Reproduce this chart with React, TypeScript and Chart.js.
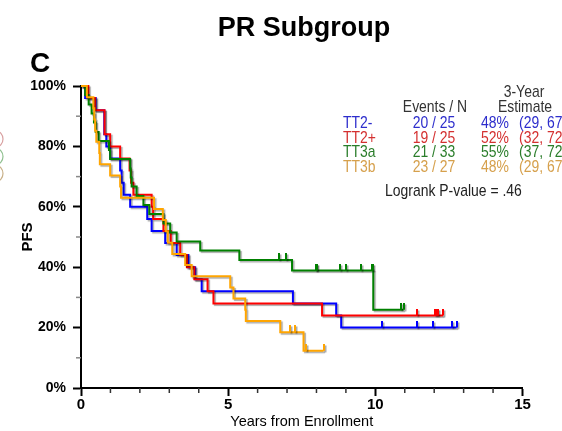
import React, { useEffect, useRef } from "react";
import { Chart, registerables } from "chart.js";

Chart.register(...registerables);

// ---- data ----
const groups = ["TT2-", "TT2+", "TT3a", "TT3b"];
const lineColors = ["#0000ff", "#ff0000", "#008000", "#ffa500"];
const textColors = ["#2d2dcc", "#d43030", "#2a7d2a", "#d6a04c"];
const eventsN = ["20 / 25", "19 / 25", "21 / 33", "23 / 27"];
const estimates = ["48%", "52%", "55%", "48%"];
const estimateCI = ["(29, 67)", "(32, 72)", "(37, 72)", "(29, 67)"];
const logrankLabel = "Logrank P-value = .46";

// Kaplan-Meier step times (years) and survival after each step (%)
const tt2mTimes = [0.14, 0.5, 0.79, 0.86, 0.99, 1.33, 1.38, 1.45, 1.67, 2.25, 2.4, 2.86, 3.25, 3.65, 3.88, 4.1, 7.2, 8.67, 8.84];
const tt2mSurv = [96, 92, 84, 80, 76, 72, 68, 64, 60, 56, 52, 48, 44, 40, 36, 32, 28, 24, 20];
const tt2mCensor = [10.23, 11.43, 11.96, 12.6, 12.76];

const tt2pTimes = [0.25, 0.48, 0.8, 0.99, 1.33, 1.65, 1.7, 1.78, 2.4, 2.45, 2.8, 3.05, 3.37, 3.6, 3.85, 4.3, 4.5, 8.19];
const tt2pSurv = [96, 92, 84, 80, 76, 72, 68, 64, 60, 56, 52, 48, 44, 40, 36, 32, 28, 24];
const tt2pCensor = [11.42, 12.04, 12.07, 12.1, 12.12, 12.3];

const tt3aTimes = [0.14, 0.26, 0.36, 0.44, 0.5, 0.6, 0.95, 0.99, 1.67, 1.69, 1.72, 1.89, 2.12, 2.32, 2.8, 3.03, 3.25, 4.05, 5.38, 7.17, 9.93];
const tt3aSurv = [97.0, 93.9, 90.9, 87.9, 84.8, 81.8, 78.8, 75.8, 72.7, 69.7, 66.7, 63.6, 60.6, 57.6, 54.5, 51.5, 48.5, 45.5, 42.4, 38.9, 25.9];
const tt3aCensor = [6.73, 6.95, 7.97, 7.99, 8.01, 8.79, 9.01, 9.52, 9.89, 9.92, 10.87, 10.96];

const tt3bTimes = [0.2, 0.42, 0.45, 0.48, 0.52, 0.62, 0.64, 0.99, 1.33, 1.36, 2.48, 2.78, 2.88, 2.95, 3.1, 3.54, 3.76, 5.07, 5.18, 5.58, 5.6, 6.77, 7.56];
const tt3bSurv = [96.3, 92.6, 88.9, 85.2, 81.5, 77.8, 74.1, 70.4, 66.7, 63.0, 59.3, 55.6, 51.9, 48.1, 44.4, 40.7, 37.0, 33.3, 29.6, 25.9, 22.2, 18.5, 12.3];
const tt3bCensor = [7.11, 7.28, 7.65, 8.24];

const curveTimes = [tt2mTimes, tt2pTimes, tt3aTimes, tt3bTimes];
const curveSurv = [tt2mSurv, tt2pSurv, tt3aSurv, tt3bSurv];
const curveCensor = [tt2mCensor, tt2pCensor, tt3aCensor, tt3bCensor];

const xMajorTicks = [0, 5, 10, 15];
const xMinorTicks = [1, 2, 3, 4, 6, 7, 8, 9, 11, 12, 13, 14];
const yMajorTicks = [0, 20, 40, 60, 80, 100];
const yMinorTicks = [10, 30, 50, 70, 90];

const ARIAL = "'Liberation Sans', Arial, sans-serif";

function survivalAt(times: number[], surv: number[], t: number): number {
  let s = 100;
  for (let i = 0; i < times.length; i++) if (times[i] <= t) s = surv[i];
  return s;
}

function curvePoints(times: number[], surv: number[], censor: number[]) {
  const pts = [{ x: 0, y: 100 }];
  times.forEach((t, i) => pts.push({ x: t, y: surv[i] }));
  const end = Math.max(...censor);
  pts.push({ x: end, y: survivalAt(times, surv, end) });
  return pts;
}

function censorMark(color: string): HTMLCanvasElement {
  const c = document.createElement("canvas");
  c.width = 2;
  c.height = 14;
  const g = c.getContext("2d")!;
  g.fillStyle = color;
  g.fillRect(0, 0, 2, 7);
  return c;
}

// condensed text: the table uses a narrow face
function narrowText(ctx: CanvasRenderingContext2D, text: string, x: number, y: number, align: CanvasTextAlign) {
  ctx.save();
  ctx.translate(x, y);
  ctx.scale(0.82, 1);
  ctx.textAlign = align;
  ctx.fillText(text, 0, 0);
  ctx.restore();
}

const decorPlugin = {
  id: "decor",
  beforeDatasetsDraw(chart: any) {
    const ctx = chart.ctx;
    ctx.save();
    ctx.shadowColor = "rgba(0,0,0,0.32)";
    ctx.shadowOffsetX = 1.5;
    ctx.shadowOffsetY = 1.5;
    ctx.shadowBlur = 1;
  },
  afterDatasetsDraw(chart: any) {
    chart.ctx.restore();
  },
  afterDraw(chart: any) {
    const ctx = chart.ctx;
    const xs = chart.scales.x;
    const ys = chart.scales.y;
    ctx.save();

    // minor tick marks
    ctx.lineCap = "butt";
    ctx.strokeStyle = "#333";
    ctx.lineWidth = 1.5;
    xMinorTicks.forEach((v) => {
      const px = xs.getPixelForValue(v);
      ctx.beginPath();
      ctx.moveTo(px, ys.bottom);
      ctx.lineTo(px, ys.bottom + 5);
      ctx.stroke();
    });
    ctx.strokeStyle = "#888";
    yMinorTicks.forEach((v) => {
      const py = ys.getPixelForValue(v);
      ctx.beginPath();
      ctx.moveTo(xs.left - 5, py);
      ctx.lineTo(xs.left, py);
      ctx.stroke();
    });

    // title and panel letter
    ctx.fillStyle = "#000";
    ctx.textAlign = "center";
    ctx.textBaseline = "alphabetic";
    ctx.font = "bold 27px " + ARIAL;
    ctx.fillText("PR Subgroup", 304, 36);
    ctx.textAlign = "left";
    ctx.font = "bold 28px " + ARIAL;
    ctx.fillText("C", 30, 72);

    // summary table
    ctx.font = "17px " + ARIAL;
    ctx.fillStyle = "#333";
    narrowText(ctx, "3-Year", 524, 97, "center");
    narrowText(ctx, "Events / N", 435, 111.5, "center");
    narrowText(ctx, "Estimate", 525, 111.5, "center");
    const rowY = [128, 142.5, 157, 171.5];
    groups.forEach((g, i) => {
      ctx.fillStyle = textColors[i];
      narrowText(ctx, g, 343, rowY[i], "left");
      narrowText(ctx, eventsN[i], 434, rowY[i], "center");
      narrowText(ctx, estimates[i], 481, rowY[i], "left");
      narrowText(ctx, estimateCI[i], 519, rowY[i], "left");
    });
    ctx.fillStyle = "#222";
    narrowText(ctx, logrankLabel, 385, 196, "left");

    // partial symbols at the left edge
    const arcColors = ["#d8a0a0", "#90c090", "#c8b088"];
    const arcY = [139, 156.5, 173.5];
    ctx.lineWidth = 1.2;
    arcColors.forEach((c, i) => {
      ctx.strokeStyle = c;
      ctx.beginPath();
      ctx.ellipse(-4, arcY[i], 7, 8, 0, 0, Math.PI * 2);
      ctx.stroke();
    });
    ctx.restore();
  },
};

export default function App() {
  const ref = useRef<HTMLCanvasElement | null>(null);

  useEffect(() => {
    const canvas = ref.current;
    if (!canvas) return;

    const lineSets = groups.map((g, i) => ({
      label: g,
      data: curvePoints(curveTimes[i], curveSurv[i], curveCensor[i]),
      borderColor: lineColors[i],
      backgroundColor: lineColors[i],
      borderWidth: 2,
      stepped: true,
      pointRadius: 0,
      fill: false,
      clip: false as any,
      order: 8 - i,
    }));
    const censorSets = groups.map((g, i) => ({
      label: g + " censored",
      data: curveCensor[i].map((t) => ({ x: t, y: survivalAt(curveTimes[i], curveSurv[i], t) })),
      showLine: false,
      pointStyle: censorMark(lineColors[i]),
      pointRadius: 4,
      borderColor: lineColors[i],
      backgroundColor: lineColors[i],
      clip: false as any,
      order: 4 - i,
    }));

    const chart = new Chart(canvas, {
      type: "line",
      data: { datasets: [...lineSets, ...censorSets] as any },
      options: {
        animation: false,
        responsive: false,
        devicePixelRatio: 1,
        layout: { padding: { top: 86, right: 39.5, bottom: 0, left: 0 } },
        plugins: {
          legend: { display: false },
          tooltip: { enabled: false },
          title: { display: false },
        },
        scales: {
          x: {
            type: "linear",
            min: 0,
            max: 15,
            afterFit: (s: any) => {
              s.height = 43;
            },
            afterBuildTicks: (s: any) => {
              s.ticks = xMajorTicks.map((v) => ({ value: v }));
            },
            ticks: {
              autoSkip: false,
              maxRotation: 0,
              padding: 0,
              color: "#000",
              font: { family: ARIAL, size: 15, weight: "bold" },
              callback: (v: any) => String(v),
            },
            grid: {
              drawOnChartArea: false,
              drawTicks: true,
              tickLength: 8,
              tickWidth: 2,
              tickColor: "#000",
            },
            border: { display: true, color: "#000", width: 2 },
            title: {
              display: true,
              text: "Years from Enrollment",
              color: "#000",
              font: { family: ARIAL, size: 14.5 },
              padding: { top: 0, bottom: 0 },
            },
          },
          y: {
            type: "linear",
            min: 0,
            max: 100,
            afterFit: (s: any) => {
              s.width = 81;
            },
            afterBuildTicks: (s: any) => {
              s.ticks = yMajorTicks.map((v) => ({ value: v }));
            },
            ticks: {
              autoSkip: false,
              padding: 7,
              color: "#000",
              font: { family: ARIAL, size: 14, weight: "bold" },
              callback: (v: any) => v + "%",
            },
            grid: {
              drawOnChartArea: false,
              drawTicks: true,
              tickLength: 8,
              tickWidth: 2,
              tickColor: "#000",
            },
            border: { display: true, color: "#000", width: 2 },
            title: {
              display: true,
              text: "PFS",
              color: "#000",
              font: { family: ARIAL, size: 15, weight: "bold" },
              padding: { top: 19, bottom: 0 },
            },
          },
        },
      },
      plugins: [decorPlugin],
    });

    return () => chart.destroy();
  }, []);

  return (
    <div style={{ position: "fixed", left: 0, top: 0, width: 562, height: 431, background: "#fff" }}>
      <canvas ref={ref} width={562} height={431} style={{ display: "block" }} />
    </div>
  );
}
